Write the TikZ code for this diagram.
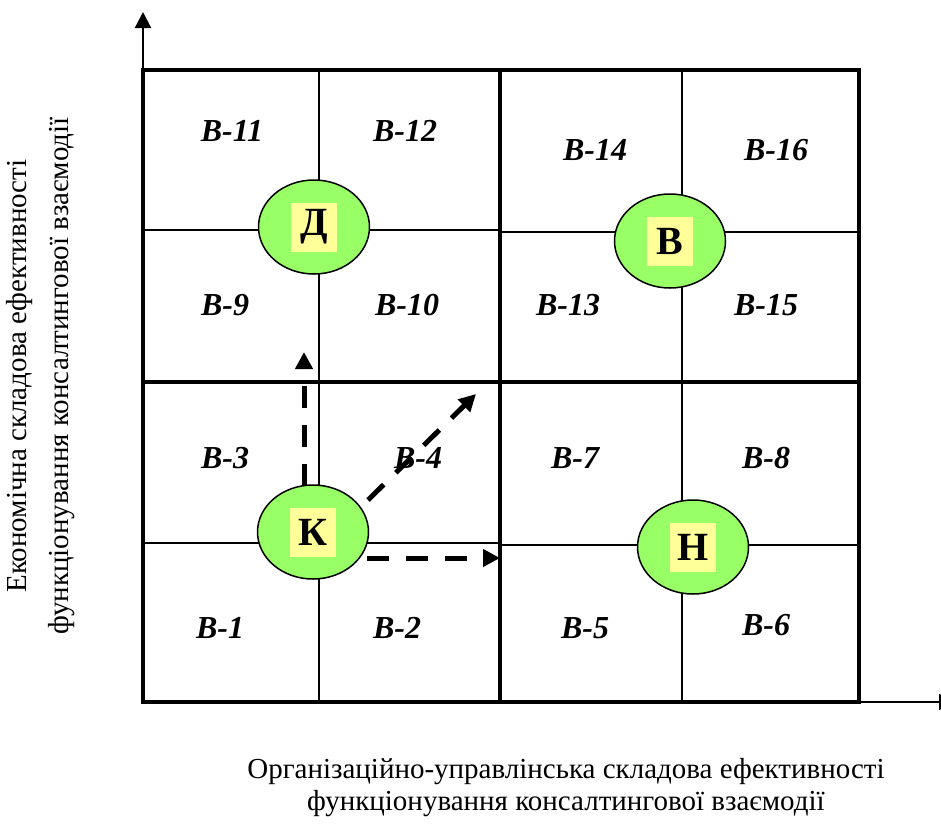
\documentclass[tikz,border=0pt]{standalone}
\usepackage{fontspec}
\setmainfont{Liberation Serif}
\usetikzlibrary{arrows.meta,calc,shapes.geometric}
\definecolor{zonegreen}{HTML}{99FF66}
\definecolor{zoneyellow}{HTML}{FFFF99}
\begin{document}
\begin{tikzpicture}[x=1pt,y=-1pt,
  thickgrid/.style={line width=4pt},
  thingrid/.style={line width=1.3pt},
  axisline/.style={line width=2.2pt,-{Triangle[length=16pt,width=16pt]}},
  cell/.style={font=\fontsize{32}{34}\selectfont\bfseries\itshape, inner sep=0pt},
  zone/.style={ellipse, draw, line width=1.5pt, fill=zonegreen, minimum width=111pt, minimum height=94pt, inner sep=0pt},
  zonelabel/.style={fill=zoneyellow, minimum width=46pt, minimum height=49pt, inner sep=0pt, font=\fontsize{40}{42}\selectfont\bfseries},
  dasharrow/.style={line width=5pt, dash pattern=on 22pt off 17pt, -{Triangle[length=17pt,width=17pt]}},
  axistext/.style={align=center, font=\fontsize{29}{42}\selectfont, inner sep=0pt}
]
\useasboundingbox (0,0) rectangle (941,823);
% thin grid lines
\draw[thingrid] (319,70) -- (319,703);
\draw[thingrid] (682,70) -- (682,703);
\draw[thingrid] (143,230) -- (500,230);
\draw[thingrid] (500,232) -- (859,232);
\draw[thingrid] (143,543) -- (500,543);
\draw[thingrid] (500,545) -- (859,545);
% thick grid
\draw[thickgrid] (500,70) -- (500,703);
\draw[thickgrid] (143,382) -- (859,382);
\draw[thickgrid] (143,70) rectangle (859,702);
% axes
\coordinate (O) at (143,702);
\coordinate (ytip) at (143,12);
\coordinate (xtip) at (955,702);
\draw[axisline] (O) -- (ytip);
\draw[axisline, line width=1.7pt] (O) -- (xtip);
% cell labels
\node[cell] (b11) at (232,131) {В-11};
\node[cell] (b12) at (405,131) {В-12};
\node[cell] (b14) at (595,150) {В-14};
\node[cell] (b16) at (776,150) {В-16};
\node[cell] (b9) at (225,305) {В-9};
\node[cell] (b10) at (407,305) {В-10};
\node[cell] (b13) at (568,305) {В-13};
\node[cell] (b15) at (766,305) {В-15};
\node[cell] (b3) at (225,458) {В-3};
\node[cell] (b4) at (418,458) {В-4};
\node[cell] (b7) at (575,458) {В-7};
\node[cell] (b8) at (766,458) {В-8};
\node[cell] (b1) at (220,628) {В-1};
\node[cell] (b2) at (397,628) {В-2};
\node[cell] (b5) at (585,628) {В-5};
\node[cell] (b6) at (766,625) {В-6};
% zones
\node[zone] (D) at (314,227) {};
\node[zonelabel] (Dl) at (D) {Д};
\node[zone] (V) at (670,241) {};
\node[zonelabel] (Vl) at (V) {В};
\node[zone] (K) at (313,532) {};
\node[zonelabel] (Kl) at (K) {К};
\node[zone] (N) at (693,547) {};
\node[zonelabel] (Nl) at (N) {Н};
% dashed arrows
\coordinate (k1) at (304,486);
\coordinate (t1) at (304,352);
\coordinate (k2) at (368,500);
\coordinate (t2) at (476,394);
\coordinate (k3) at (367,558);
\coordinate (t3) at (500,558);
\draw[dasharrow] (k1) -- (t1);
\draw[dasharrow] (k2) -- (t2);
\draw[dasharrow] (k3) -- (t3);
% axis texts
\node[axistext, rotate=90] (ylab) at (41,376) {Економічна складова ефективності\\функціонування консалтингової взаємодії};
\node[axistext, font=\fontsize{29}{32}\selectfont] (xlab) at (566,788) {Організаційно-управлінська складова ефективності\\функціонування консалтингової взаємодії};
\end{tikzpicture}
\end{document}
